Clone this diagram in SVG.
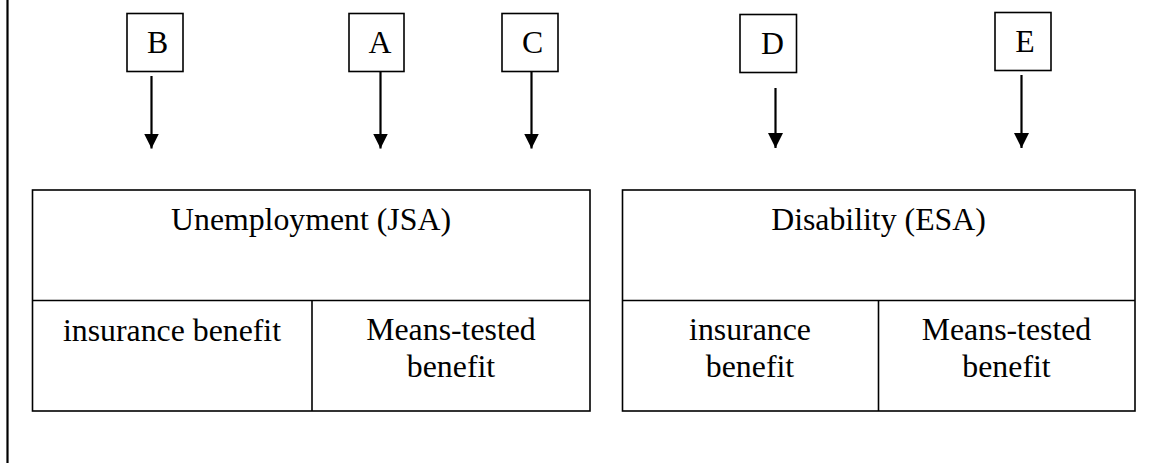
<svg xmlns="http://www.w3.org/2000/svg" width="1159" height="463" viewBox="0 0 1159 463">
  <style>
    .box { fill: #ffffff; stroke: #000000; stroke-width: 1.6; }
    .div { stroke: #000000; stroke-width: 1.6; fill: none; }
    .lbl { font-family: "Liberation Serif", "Times New Roman", serif; font-size: 31.8px; fill: #000000; text-anchor: middle; }
    .conn { stroke: #000000; stroke-width: 2.2; fill: none; marker-end: url(#arrow); }
  </style>
  <defs>
    <marker id="arrow" markerUnits="userSpaceOnUse" markerWidth="16" markerHeight="16" refX="15" refY="7.5" orient="auto" viewBox="0 0 16 16">
      <path d="M0,0 L15,7.5 L0,15 z" fill="#000000"/>
    </marker>
  </defs>
  <rect x="0" y="0" width="1159" height="463" fill="#ffffff"/>

  <!-- page margin line -->
  <line x1="7.5" y1="0" x2="7.5" y2="463" stroke="#000000" stroke-width="2.2"/>

  <g id="node-B">
    <rect class="box" x="127" y="13.5" width="56" height="58"/>
    <text class="lbl" x="157.5" y="52.5">B</text>
  </g>
  <g id="node-A">
    <rect class="box" x="349" y="13.5" width="55" height="58"/>
    <text class="lbl" x="380" y="52.5">A</text>
  </g>
  <g id="node-C">
    <rect class="box" x="502" y="13.5" width="56" height="58"/>
    <text class="lbl" x="532.5" y="52.5">C</text>
  </g>
  <g id="node-D">
    <rect class="box" x="740" y="14.5" width="56.5" height="58"/>
    <text class="lbl" x="772.5" y="53.5">D</text>
  </g>
  <g id="node-E">
    <rect class="box" x="995" y="12.5" width="56" height="58"/>
    <text class="lbl" x="1025" y="51.5">E</text>
  </g>

  <g id="node-JSA">
    <rect class="box" x="32.5" y="190" width="557.5" height="221"/>
    <line class="div" x1="32.5" y1="300.5" x2="590" y2="300.5"/>
    <line class="div" x1="312" y1="300.5" x2="312" y2="411"/>
    <text class="lbl" x="311" y="230">Unemployment (JSA)</text>
    <text class="lbl" x="172" y="340.5">insurance benefit</text>
    <text class="lbl" x="451" y="340">Means-tested</text>
    <text class="lbl" x="451" y="377">benefit</text>
  </g>

  <g id="node-ESA">
    <rect class="box" x="622.5" y="190" width="512.5" height="221"/>
    <line class="div" x1="622.5" y1="300.5" x2="1135" y2="300.5"/>
    <line class="div" x1="878.5" y1="300.5" x2="878.5" y2="411"/>
    <text class="lbl" x="878.5" y="230">Disability (ESA)</text>
    <text class="lbl" x="750" y="340">insurance</text>
    <text class="lbl" x="750" y="377">benefit</text>
    <text class="lbl" x="1006.5" y="340">Means-tested</text>
    <text class="lbl" x="1006.5" y="377">benefit</text>
  </g>

  <g id="connectors">
    <line class="conn" x1="151.5" y1="76" x2="151.5" y2="148.5"/>
    <line class="conn" x1="380.5" y1="71.5" x2="380.5" y2="148.5"/>
    <line class="conn" x1="531.5" y1="71.5" x2="531.5" y2="148.5"/>
    <line class="conn" x1="775.5" y1="88" x2="775.5" y2="148"/>
    <line class="conn" x1="1021.5" y1="75" x2="1021.5" y2="148"/>
  </g>
</svg>
